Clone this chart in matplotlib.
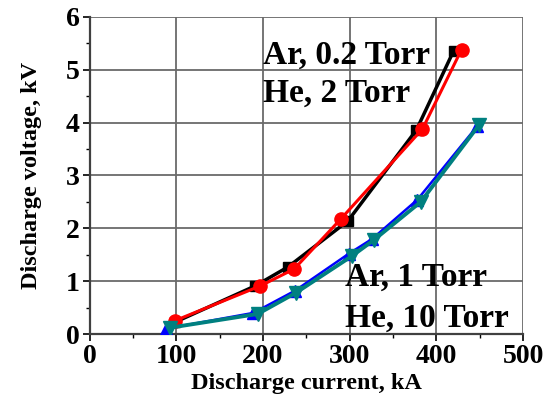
import matplotlib
matplotlib.use('Agg')
from matplotlib import pyplot as plt
from matplotlib.ticker import MultipleLocator

plt.rcParams['font.family'] = 'Liberation Serif'
plt.rcParams['font.weight'] = 'bold'

# Ar 0.2 Torr (black squares) and He 2 Torr (red circles)
ar02_i = [98, 191, 229, 298, 377, 420]
ar02_v = [0.22, 0.91, 1.27, 2.14, 3.86, 5.36]
he2_i = [98, 197, 236, 290, 384, 429]
he2_v = [0.25, 0.91, 1.23, 2.18, 3.88, 5.38]

# Ar 1 Torr (blue triangles) and He 10 Torr (teal down triangles)
ar1_i = [88, 189, 237, 299, 326, 378, 447]
ar1_v = [0.10, 0.40, 0.82, 1.52, 1.80, 2.54, 3.93]
he10_i = [93, 194, 238, 303, 328, 382, 449]
he10_v = [0.12, 0.38, 0.78, 1.48, 1.78, 2.50, 3.95]

fig = plt.figure(figsize=(5.46, 4.01), dpi=100)
ax = fig.add_axes([0.164, 0.167, 0.794, 0.791])

ax.plot(ar02_i, ar02_v, color='black', lw=2.5, marker='s', ms=7, zorder=3)
ax.plot(he2_i, he2_v, color='red', lw=2.2, marker='o', ms=9.5, zorder=4)
ax.plot(ar1_i, ar1_v, color='blue', lw=1.8, marker='^', ms=9, zorder=3)
ax.plot(he10_i, he10_v, color='#008080', lw=2.8, marker='v', ms=9.5, zorder=4)

ax.set_xlim(0, 500)
ax.set_ylim(0, 6)
ax.xaxis.set_major_locator(MultipleLocator(100))
ax.xaxis.set_minor_locator(MultipleLocator(50))
ax.yaxis.set_major_locator(MultipleLocator(1))
ax.yaxis.set_minor_locator(MultipleLocator(0.5))
ax.grid(True, which='major', color='#6a6a6a', lw=1.3)
ax.set_axisbelow(True)

for s in ['top', 'right']:
    ax.spines[s].set_visible(False)
for s in ['left', 'bottom']:
    ax.spines[s].set_linewidth(1.6)
    ax.spines[s].set_color('#404040')
ax.tick_params(which='major', direction='out', length=5, width=1.2, labelsize=20, pad=2)
ax.tick_params(which='minor', direction='out', length=3, width=1.0)

ax.set_xlabel('Discharge current, kA', fontsize=17.5, fontweight='bold', labelpad=3)
ax.set_ylabel('Discharge voltage, kV', fontsize=17.5, fontweight='bold', labelpad=17)

ax.text(200, 5.28, 'Ar, 0.2 Torr', fontsize=24, fontweight='bold', va='center')
ax.text(200, 4.56, 'He, 2 Torr', fontsize=24, fontweight='bold', va='center')
ax.text(295, 1.08, 'Ar, 1 Torr', fontsize=24, fontweight='bold', va='center')
ax.text(295, 0.30, 'He, 10 Torr', fontsize=24, fontweight='bold', va='center')

plt.savefig('out.png', dpi=100)
